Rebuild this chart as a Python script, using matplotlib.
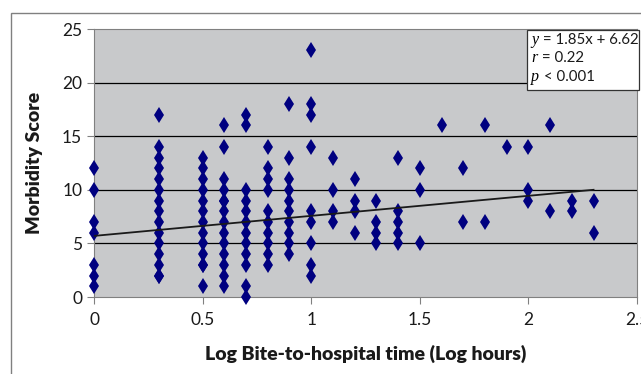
import numpy as np
import matplotlib
matplotlib.use('Agg')
import matplotlib.pyplot as plt
from matplotlib.patches import Rectangle

# log bite-to-hospital time (log hours) and morbidity scores at each time
log_hours = [0.0, 0.3, 0.5, 0.6, 0.7, 0.8, 0.9, 1.0, 1.1, 1.2, 1.3, 1.4,
             1.5, 1.6, 1.7, 1.8, 1.9, 2.0, 2.1, 2.2, 2.3]
scores_00 = [12, 10, 7, 6, 3, 2, 1]
scores_03 = [17, 14, 13, 12, 11, 10, 9, 8, 7, 6, 5, 4, 3, 2, 2]
scores_05 = [13, 12, 11, 10, 9, 8, 7, 6, 5, 4, 3, 3, 1]
scores_06 = [16, 14, 11, 10, 9, 9, 8, 7, 6, 5, 4, 3, 2, 1]
scores_07 = [17, 16, 10, 9, 8, 7, 6, 5, 4, 3, 1, 0]
scores_08 = [14, 12, 11, 10, 8, 7, 6, 5, 4, 3]
scores_09 = [18, 13, 11, 10, 9, 8, 7, 6, 5, 4]
scores_10 = [23, 18, 17, 14, 8, 7, 5, 3, 2]
scores_11 = [13, 10, 8, 7]
scores_12 = [11, 9, 8, 6]
scores_13 = [9, 7, 6, 5]
scores_14 = [13, 8, 7, 6, 5]
scores_15 = [12, 10, 5]
scores_16 = [16]
scores_17 = [12, 7]
scores_18 = [16, 7]
scores_19 = [14]
scores_20 = [14, 10, 9]
scores_21 = [16, 8]
scores_22 = [9, 8]
scores_23 = [9, 6]

# trend line as drawn in the original chart
trend_x = [0.0, 2.3]
trend_y = [5.7, 10.0]

stats_lines = [('y', ' = 1.85x + 6.62'), ('r', ' = 0.22'), ('p', ' < 0.001')]

all_scores = [scores_00, scores_03, scores_05, scores_06, scores_07, scores_08,
              scores_09, scores_10, scores_11, scores_12, scores_13, scores_14,
              scores_15, scores_16, scores_17, scores_18, scores_19, scores_20,
              scores_21, scores_22, scores_23]

x = np.concatenate([[lh] * len(s) for lh, s in zip(log_hours, all_scores)])
y = np.concatenate(all_scores)

plt.rcParams['font.family'] = ['Lato', 'DejaVu Sans']

fig = plt.figure(figsize=(6.41, 3.74), dpi=100)
# outer chart border
fig.patches.append(Rectangle((11 / 641, -0.1), 1.2, 1 - 13 / 374 + 0.1,
                             transform=fig.transFigure, fill=False,
                             edgecolor='#808080', linewidth=1.0))

ax = fig.add_axes([94 / 641, 1 - 297 / 374, (637 - 94) / 641, (297 - 29) / 374])
ax.set_facecolor('#c8c9cb')
ax.set_xlim(0, 2.5)
ax.set_ylim(0, 25)

for gy in [5, 10, 15, 20]:
    ax.axhline(gy, color='black', linewidth=0.9, zorder=1)

ax.plot(x, y, linestyle='none', marker='d', markersize=8.5,
        color='#000080', markeredgewidth=0, zorder=3, clip_on=False)
ax.plot(trend_x, trend_y, color='#1a1a1a', linewidth=1.3, zorder=4)

for side in ['top', 'right', 'left', 'bottom']:
    ax.spines[side].set_color('#808080')

ax.set_xticks([0, 0.5, 1, 1.5, 2, 2.5])
ax.set_xticklabels(['0', '0.5', '1', '1.5', '2', '2.5'])
ax.set_yticks([0, 5, 10, 15, 20, 25])
ax.tick_params(axis='both', labelsize=12.5, color='#808080', length=5,
               labelcolor='#1a1a1a')
ax.tick_params(axis='x', pad=6)

ax.set_xlabel('Log Bite-to-hospital time (Log hours)', fontsize=14,
              fontweight='heavy', labelpad=12, color='#1a1a1a')
ax.set_ylabel('Morbidity Score', fontsize=14, fontweight='heavy',
              labelpad=14, color='#1a1a1a')

# statistics box in the top right corner
box = Rectangle((527 / 641, 1 - 90 / 374), (639 - 527) / 641, (90 - 30) / 374,
                transform=fig.transFigure, facecolor='white',
                edgecolor='#333333', linewidth=0.9, zorder=5)
fig.patches.append(box)
for i, (var, rest) in enumerate(stats_lines):
    ty = 1 - (40 + i * 18.5) / 374
    t = fig.text(531 / 641, ty, var, fontsize=11.5, family='Liberation Serif',
                 style='italic', va='center', ha='left', zorder=6)
    fig.canvas.draw()
    bb = t.get_window_extent()
    fig.text(bb.x1 / 641 + 0.001, ty, rest, fontsize=10.8, va='center',
             ha='left', color='#1a1a1a', zorder=6)

fig.savefig('out.png', dpi=100)
